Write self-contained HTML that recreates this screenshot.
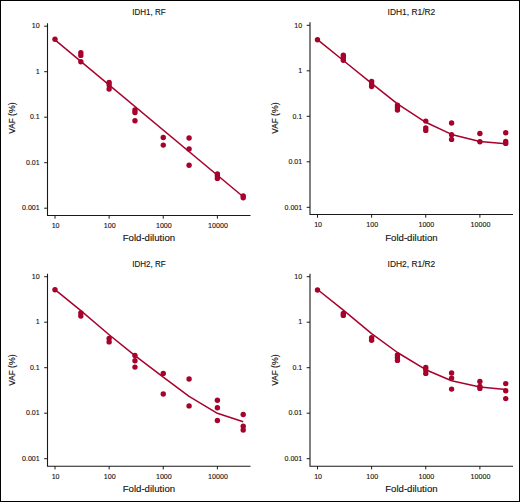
<!DOCTYPE html>
<html><head><meta charset="utf-8"><style>
html,body{margin:0;padding:0;background:#fff;}
body{width:520px;height:502px;overflow:hidden;}
svg{display:block;}
text{fill:#111;stroke:#111;stroke-width:0.12px;}
</style></head><body>
<svg width="520" height="502" viewBox="0 0 520 502" font-family="Liberation Sans, sans-serif">
<rect x="0.5" y="0.5" width="519" height="501" fill="#fff" stroke="#000" stroke-width="1"/>
<path d="M47.5 23.2V215.5H250.5" fill="none" stroke="#1a1a1a" stroke-width="1.1"/>
<path d="M44.2 26.20H47.5" stroke="#1a1a1a" stroke-width="1"/>
<text x="39.70" y="28.45" text-anchor="end" font-size="8.0" textLength="7.90" lengthAdjust="spacingAndGlyphs">10</text>
<path d="M44.2 71.70H47.5" stroke="#1a1a1a" stroke-width="1"/>
<text x="39.70" y="73.95" text-anchor="end" font-size="8.0" textLength="3.95" lengthAdjust="spacingAndGlyphs">1</text>
<path d="M44.2 117.20H47.5" stroke="#1a1a1a" stroke-width="1"/>
<text x="39.70" y="119.45" text-anchor="end" font-size="8.0" textLength="9.77" lengthAdjust="spacingAndGlyphs">0.1</text>
<path d="M44.2 162.70H47.5" stroke="#1a1a1a" stroke-width="1"/>
<text x="39.70" y="164.95" text-anchor="end" font-size="8.0" textLength="13.72" lengthAdjust="spacingAndGlyphs">0.01</text>
<path d="M44.2 208.20H47.5" stroke="#1a1a1a" stroke-width="1"/>
<text x="39.70" y="210.45" text-anchor="end" font-size="8.0" textLength="17.67" lengthAdjust="spacingAndGlyphs">0.001</text>
<path d="M55.00 215.5V218.7" stroke="#1a1a1a" stroke-width="1"/>
<text x="55.60" y="228.20" text-anchor="middle" font-size="8.0" textLength="7.90" lengthAdjust="spacingAndGlyphs">10</text>
<path d="M109.13 215.5V218.7" stroke="#1a1a1a" stroke-width="1"/>
<text x="109.73" y="228.20" text-anchor="middle" font-size="8.0" textLength="11.85" lengthAdjust="spacingAndGlyphs">100</text>
<path d="M163.26 215.5V218.7" stroke="#1a1a1a" stroke-width="1"/>
<text x="163.86" y="228.20" text-anchor="middle" font-size="8.0" textLength="15.80" lengthAdjust="spacingAndGlyphs">1000</text>
<path d="M217.39 215.5V218.7" stroke="#1a1a1a" stroke-width="1"/>
<text x="217.99" y="228.20" text-anchor="middle" font-size="8.0" textLength="19.75" lengthAdjust="spacingAndGlyphs">10000</text>
<text x="148.90" y="15.1" text-anchor="middle" font-size="9.0" textLength="33.4" lengthAdjust="spacingAndGlyphs">IDH1, RF</text>
<text x="148.90" y="241.40" text-anchor="middle" font-size="9.8" textLength="52.4" lengthAdjust="spacingAndGlyphs">Fold-dilution</text>
<text transform="translate(15.30 133.70) rotate(-90)" text-anchor="start" font-size="8.8" textLength="15.4" lengthAdjust="spacingAndGlyphs">VAF</text>
<text transform="translate(15.30 115.90) rotate(-90)" text-anchor="start" font-size="8.8" textLength="13.5" lengthAdjust="spacingAndGlyphs">(%)</text>
<path d="M55.00 39.80L243.22 196.77" fill="none" stroke="#a6022c" stroke-width="1.5"/>
<circle cx="55.00" cy="39.20" r="2.7" fill="#a6022c"/>
<circle cx="80.83" cy="52.80" r="2.7" fill="#a6022c"/>
<circle cx="80.83" cy="55.40" r="2.7" fill="#a6022c"/>
<circle cx="80.83" cy="61.80" r="2.7" fill="#a6022c"/>
<circle cx="109.13" cy="82.50" r="2.7" fill="#a6022c"/>
<circle cx="109.13" cy="85.00" r="2.7" fill="#a6022c"/>
<circle cx="109.13" cy="89.00" r="2.7" fill="#a6022c"/>
<circle cx="134.96" cy="110.00" r="2.7" fill="#a6022c"/>
<circle cx="134.96" cy="112.50" r="2.7" fill="#a6022c"/>
<circle cx="134.96" cy="120.70" r="2.7" fill="#a6022c"/>
<circle cx="163.26" cy="137.50" r="2.7" fill="#a6022c"/>
<circle cx="163.26" cy="145.10" r="2.7" fill="#a6022c"/>
<circle cx="189.09" cy="138.00" r="2.7" fill="#a6022c"/>
<circle cx="189.09" cy="148.90" r="2.7" fill="#a6022c"/>
<circle cx="189.09" cy="165.30" r="2.7" fill="#a6022c"/>
<circle cx="217.39" cy="174.00" r="2.7" fill="#a6022c"/>
<circle cx="217.39" cy="176.00" r="2.7" fill="#a6022c"/>
<circle cx="217.39" cy="178.40" r="2.7" fill="#a6022c"/>
<circle cx="243.22" cy="195.90" r="2.7" fill="#a6022c"/>
<circle cx="243.22" cy="197.80" r="2.7" fill="#a6022c"/>
<path d="M310.0 22.3V214.5H513.0" fill="none" stroke="#1a1a1a" stroke-width="1.1"/>
<path d="M306.7 25.30H310.0" stroke="#1a1a1a" stroke-width="1"/>
<text x="302.20" y="27.55" text-anchor="end" font-size="8.0" textLength="7.90" lengthAdjust="spacingAndGlyphs">10</text>
<path d="M306.7 70.80H310.0" stroke="#1a1a1a" stroke-width="1"/>
<text x="302.20" y="73.05" text-anchor="end" font-size="8.0" textLength="3.95" lengthAdjust="spacingAndGlyphs">1</text>
<path d="M306.7 116.30H310.0" stroke="#1a1a1a" stroke-width="1"/>
<text x="302.20" y="118.55" text-anchor="end" font-size="8.0" textLength="9.77" lengthAdjust="spacingAndGlyphs">0.1</text>
<path d="M306.7 161.80H310.0" stroke="#1a1a1a" stroke-width="1"/>
<text x="302.20" y="164.05" text-anchor="end" font-size="8.0" textLength="13.72" lengthAdjust="spacingAndGlyphs">0.01</text>
<path d="M306.7 207.30H310.0" stroke="#1a1a1a" stroke-width="1"/>
<text x="302.20" y="209.55" text-anchor="end" font-size="8.0" textLength="17.67" lengthAdjust="spacingAndGlyphs">0.001</text>
<path d="M317.50 214.5V217.7" stroke="#1a1a1a" stroke-width="1"/>
<text x="318.10" y="227.30" text-anchor="middle" font-size="8.0" textLength="7.90" lengthAdjust="spacingAndGlyphs">10</text>
<path d="M371.63 214.5V217.7" stroke="#1a1a1a" stroke-width="1"/>
<text x="372.23" y="227.30" text-anchor="middle" font-size="8.0" textLength="11.85" lengthAdjust="spacingAndGlyphs">100</text>
<path d="M425.76 214.5V217.7" stroke="#1a1a1a" stroke-width="1"/>
<text x="426.36" y="227.30" text-anchor="middle" font-size="8.0" textLength="15.80" lengthAdjust="spacingAndGlyphs">1000</text>
<path d="M479.89 214.5V217.7" stroke="#1a1a1a" stroke-width="1"/>
<text x="480.49" y="227.30" text-anchor="middle" font-size="8.0" textLength="19.75" lengthAdjust="spacingAndGlyphs">10000</text>
<text x="411.40" y="15.1" text-anchor="middle" font-size="9.0" textLength="47.7" lengthAdjust="spacingAndGlyphs">IDH1, R1/R2</text>
<text x="411.40" y="240.50" text-anchor="middle" font-size="9.8" textLength="52.4" lengthAdjust="spacingAndGlyphs">Fold-dilution</text>
<text transform="translate(277.80 133.70) rotate(-90)" text-anchor="start" font-size="8.8" textLength="15.4" lengthAdjust="spacingAndGlyphs">VAF</text>
<text transform="translate(277.80 115.90) rotate(-90)" text-anchor="start" font-size="8.8" textLength="13.5" lengthAdjust="spacingAndGlyphs">(%)</text>
<path d="M317.50 39.70L343.33 60.50L371.63 83.40L397.46 103.90L425.76 122.30L451.59 134.40L479.89 141.40L505.72 143.80" fill="none" stroke="#a6022c" stroke-width="1.5" stroke-linejoin="round"/>
<circle cx="317.50" cy="39.70" r="2.7" fill="#a6022c"/>
<circle cx="343.33" cy="55.30" r="2.7" fill="#a6022c"/>
<circle cx="343.33" cy="57.50" r="2.7" fill="#a6022c"/>
<circle cx="343.33" cy="60.30" r="2.7" fill="#a6022c"/>
<circle cx="371.63" cy="81.50" r="2.7" fill="#a6022c"/>
<circle cx="371.63" cy="84.00" r="2.7" fill="#a6022c"/>
<circle cx="371.63" cy="86.50" r="2.7" fill="#a6022c"/>
<circle cx="397.46" cy="105.10" r="2.7" fill="#a6022c"/>
<circle cx="397.46" cy="107.60" r="2.7" fill="#a6022c"/>
<circle cx="397.46" cy="110.10" r="2.7" fill="#a6022c"/>
<circle cx="425.76" cy="121.10" r="2.7" fill="#a6022c"/>
<circle cx="425.76" cy="128.00" r="2.7" fill="#a6022c"/>
<circle cx="425.76" cy="130.40" r="2.7" fill="#a6022c"/>
<circle cx="451.59" cy="123.00" r="2.7" fill="#a6022c"/>
<circle cx="451.59" cy="134.70" r="2.7" fill="#a6022c"/>
<circle cx="451.59" cy="139.40" r="2.7" fill="#a6022c"/>
<circle cx="479.89" cy="133.50" r="2.7" fill="#a6022c"/>
<circle cx="479.89" cy="141.80" r="2.7" fill="#a6022c"/>
<circle cx="505.72" cy="132.70" r="2.7" fill="#a6022c"/>
<circle cx="505.72" cy="141.40" r="2.7" fill="#a6022c"/>
<circle cx="505.72" cy="143.40" r="2.7" fill="#a6022c"/>
<path d="M47.5 273.7V466.2H250.5" fill="none" stroke="#1a1a1a" stroke-width="1.1"/>
<path d="M44.2 276.70H47.5" stroke="#1a1a1a" stroke-width="1"/>
<text x="39.70" y="278.95" text-anchor="end" font-size="8.0" textLength="7.90" lengthAdjust="spacingAndGlyphs">10</text>
<path d="M44.2 322.20H47.5" stroke="#1a1a1a" stroke-width="1"/>
<text x="39.70" y="324.45" text-anchor="end" font-size="8.0" textLength="3.95" lengthAdjust="spacingAndGlyphs">1</text>
<path d="M44.2 367.70H47.5" stroke="#1a1a1a" stroke-width="1"/>
<text x="39.70" y="369.95" text-anchor="end" font-size="8.0" textLength="9.77" lengthAdjust="spacingAndGlyphs">0.1</text>
<path d="M44.2 413.20H47.5" stroke="#1a1a1a" stroke-width="1"/>
<text x="39.70" y="415.45" text-anchor="end" font-size="8.0" textLength="13.72" lengthAdjust="spacingAndGlyphs">0.01</text>
<path d="M44.2 458.70H47.5" stroke="#1a1a1a" stroke-width="1"/>
<text x="39.70" y="460.95" text-anchor="end" font-size="8.0" textLength="17.67" lengthAdjust="spacingAndGlyphs">0.001</text>
<path d="M55.00 466.2V469.4" stroke="#1a1a1a" stroke-width="1"/>
<text x="55.60" y="479.10" text-anchor="middle" font-size="8.0" textLength="7.90" lengthAdjust="spacingAndGlyphs">10</text>
<path d="M109.13 466.2V469.4" stroke="#1a1a1a" stroke-width="1"/>
<text x="109.73" y="479.10" text-anchor="middle" font-size="8.0" textLength="11.85" lengthAdjust="spacingAndGlyphs">100</text>
<path d="M163.26 466.2V469.4" stroke="#1a1a1a" stroke-width="1"/>
<text x="163.86" y="479.10" text-anchor="middle" font-size="8.0" textLength="15.80" lengthAdjust="spacingAndGlyphs">1000</text>
<path d="M217.39 466.2V469.4" stroke="#1a1a1a" stroke-width="1"/>
<text x="217.99" y="479.10" text-anchor="middle" font-size="8.0" textLength="19.75" lengthAdjust="spacingAndGlyphs">10000</text>
<text x="148.90" y="266.7" text-anchor="middle" font-size="9.0" textLength="33.4" lengthAdjust="spacingAndGlyphs">IDH2, RF</text>
<text x="148.90" y="492.30" text-anchor="middle" font-size="9.8" textLength="52.4" lengthAdjust="spacingAndGlyphs">Fold-dilution</text>
<text transform="translate(15.30 385.70) rotate(-90)" text-anchor="start" font-size="8.8" textLength="15.4" lengthAdjust="spacingAndGlyphs">VAF</text>
<text transform="translate(15.30 367.90) rotate(-90)" text-anchor="start" font-size="8.8" textLength="13.5" lengthAdjust="spacingAndGlyphs">(%)</text>
<path d="M55.00 289.70L80.83 310.70L109.13 334.70L134.96 355.70L163.26 377.10L189.09 396.40L217.39 413.30L243.22 421.70" fill="none" stroke="#a6022c" stroke-width="1.5" stroke-linejoin="round"/>
<circle cx="55.00" cy="289.70" r="2.7" fill="#a6022c"/>
<circle cx="80.83" cy="312.90" r="2.7" fill="#a6022c"/>
<circle cx="80.83" cy="316.00" r="2.7" fill="#a6022c"/>
<circle cx="109.13" cy="338.40" r="2.7" fill="#a6022c"/>
<circle cx="109.13" cy="341.90" r="2.7" fill="#a6022c"/>
<circle cx="134.96" cy="355.50" r="2.7" fill="#a6022c"/>
<circle cx="134.96" cy="360.70" r="2.7" fill="#a6022c"/>
<circle cx="134.96" cy="367.10" r="2.7" fill="#a6022c"/>
<circle cx="163.26" cy="373.40" r="2.7" fill="#a6022c"/>
<circle cx="163.26" cy="394.00" r="2.7" fill="#a6022c"/>
<circle cx="189.09" cy="379.00" r="2.7" fill="#a6022c"/>
<circle cx="189.09" cy="405.90" r="2.7" fill="#a6022c"/>
<circle cx="217.39" cy="400.20" r="2.7" fill="#a6022c"/>
<circle cx="217.39" cy="407.70" r="2.7" fill="#a6022c"/>
<circle cx="217.39" cy="420.50" r="2.7" fill="#a6022c"/>
<circle cx="243.22" cy="414.50" r="2.7" fill="#a6022c"/>
<circle cx="243.22" cy="426.20" r="2.7" fill="#a6022c"/>
<circle cx="243.22" cy="430.00" r="2.7" fill="#a6022c"/>
<path d="M310.0 273.7V466.2H513.0" fill="none" stroke="#1a1a1a" stroke-width="1.1"/>
<path d="M306.7 276.70H310.0" stroke="#1a1a1a" stroke-width="1"/>
<text x="302.20" y="278.95" text-anchor="end" font-size="8.0" textLength="7.90" lengthAdjust="spacingAndGlyphs">10</text>
<path d="M306.7 322.20H310.0" stroke="#1a1a1a" stroke-width="1"/>
<text x="302.20" y="324.45" text-anchor="end" font-size="8.0" textLength="3.95" lengthAdjust="spacingAndGlyphs">1</text>
<path d="M306.7 367.70H310.0" stroke="#1a1a1a" stroke-width="1"/>
<text x="302.20" y="369.95" text-anchor="end" font-size="8.0" textLength="9.77" lengthAdjust="spacingAndGlyphs">0.1</text>
<path d="M306.7 413.20H310.0" stroke="#1a1a1a" stroke-width="1"/>
<text x="302.20" y="415.45" text-anchor="end" font-size="8.0" textLength="13.72" lengthAdjust="spacingAndGlyphs">0.01</text>
<path d="M306.7 458.70H310.0" stroke="#1a1a1a" stroke-width="1"/>
<text x="302.20" y="460.95" text-anchor="end" font-size="8.0" textLength="17.67" lengthAdjust="spacingAndGlyphs">0.001</text>
<path d="M317.50 466.2V469.4" stroke="#1a1a1a" stroke-width="1"/>
<text x="318.10" y="479.10" text-anchor="middle" font-size="8.0" textLength="7.90" lengthAdjust="spacingAndGlyphs">10</text>
<path d="M371.63 466.2V469.4" stroke="#1a1a1a" stroke-width="1"/>
<text x="372.23" y="479.10" text-anchor="middle" font-size="8.0" textLength="11.85" lengthAdjust="spacingAndGlyphs">100</text>
<path d="M425.76 466.2V469.4" stroke="#1a1a1a" stroke-width="1"/>
<text x="426.36" y="479.10" text-anchor="middle" font-size="8.0" textLength="15.80" lengthAdjust="spacingAndGlyphs">1000</text>
<path d="M479.89 466.2V469.4" stroke="#1a1a1a" stroke-width="1"/>
<text x="480.49" y="479.10" text-anchor="middle" font-size="8.0" textLength="19.75" lengthAdjust="spacingAndGlyphs">10000</text>
<text x="411.40" y="266.7" text-anchor="middle" font-size="9.0" textLength="47.7" lengthAdjust="spacingAndGlyphs">IDH2, R1/R2</text>
<text x="411.40" y="492.30" text-anchor="middle" font-size="9.8" textLength="52.4" lengthAdjust="spacingAndGlyphs">Fold-dilution</text>
<text transform="translate(277.80 385.70) rotate(-90)" text-anchor="start" font-size="8.8" textLength="15.4" lengthAdjust="spacingAndGlyphs">VAF</text>
<text transform="translate(277.80 367.90) rotate(-90)" text-anchor="start" font-size="8.8" textLength="13.5" lengthAdjust="spacingAndGlyphs">(%)</text>
<path d="M317.50 289.50L343.33 310.20L371.63 333.70L397.46 352.50L425.76 369.70L451.59 380.70L479.89 387.10L505.72 389.40" fill="none" stroke="#a6022c" stroke-width="1.5" stroke-linejoin="round"/>
<circle cx="317.50" cy="290.00" r="2.7" fill="#a6022c"/>
<circle cx="343.33" cy="313.40" r="2.7" fill="#a6022c"/>
<circle cx="343.33" cy="315.40" r="2.7" fill="#a6022c"/>
<circle cx="371.63" cy="337.80" r="2.7" fill="#a6022c"/>
<circle cx="371.63" cy="340.20" r="2.7" fill="#a6022c"/>
<circle cx="397.46" cy="355.00" r="2.7" fill="#a6022c"/>
<circle cx="397.46" cy="357.50" r="2.7" fill="#a6022c"/>
<circle cx="397.46" cy="360.40" r="2.7" fill="#a6022c"/>
<circle cx="425.76" cy="367.40" r="2.7" fill="#a6022c"/>
<circle cx="425.76" cy="369.90" r="2.7" fill="#a6022c"/>
<circle cx="425.76" cy="373.40" r="2.7" fill="#a6022c"/>
<circle cx="451.59" cy="373.00" r="2.7" fill="#a6022c"/>
<circle cx="451.59" cy="378.10" r="2.7" fill="#a6022c"/>
<circle cx="451.59" cy="389.10" r="2.7" fill="#a6022c"/>
<circle cx="479.89" cy="381.40" r="2.7" fill="#a6022c"/>
<circle cx="479.89" cy="386.40" r="2.7" fill="#a6022c"/>
<circle cx="479.89" cy="388.40" r="2.7" fill="#a6022c"/>
<circle cx="505.72" cy="383.60" r="2.7" fill="#a6022c"/>
<circle cx="505.72" cy="390.70" r="2.7" fill="#a6022c"/>
<circle cx="505.72" cy="398.60" r="2.7" fill="#a6022c"/>
</svg>
</body></html>
